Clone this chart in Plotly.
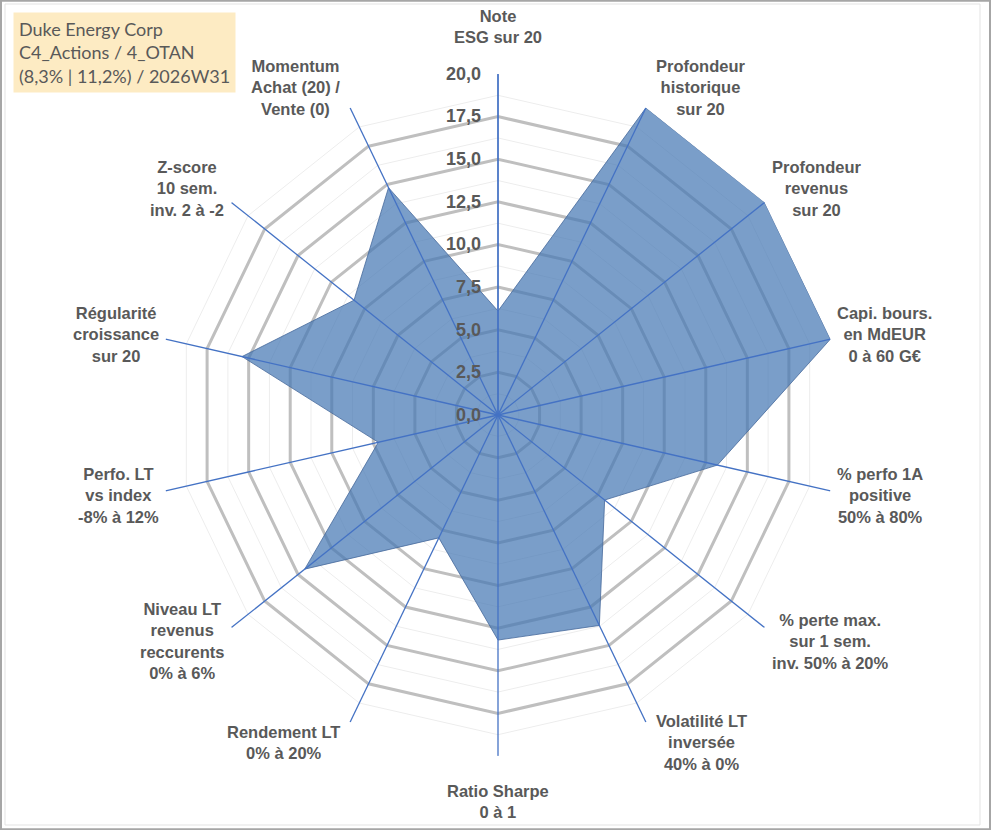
import math
import plotly.graph_objects as go

# axes of the radar, clockwise from the top
categories = [
    "Note<br>ESG sur 20",
    "Profondeur<br>historique<br>sur 20",
    "Profondeur<br>revenus<br>sur 20",
    "Capi. bours.<br>en MdEUR<br>0 à 60 G€",
    "% perfo 1A<br>positive<br>50% à 80%",
    "% perte max.<br>sur 1 sem.<br>inv. 50% à 20%",
    "Volatilité LT<br>inversée<br>40% à 0%",
    "Ratio Sharpe<br>0 à 1",
    "Rendement LT<br>0% à 20%",
    "Niveau LT<br>revenus<br>reccurents<br>0% à 6%",
    "Perfo. LT<br>vs index<br>-8% à 12%",
    "Régularité<br>croissance<br>sur 20",
    "Z-score<br>10 sem.<br>inv. 2 à -2",
    "Momentum<br>Achat (20) /<br>Vente (0)",
]
scores = [6.1, 20, 20, 20, 13.2, 8.0, 13.7, 13.2, 8.0, 14.5, 7.2, 15.4, 10.8, 14.8]
minor_levels = [1.25, 3.75, 6.25, 8.75, 11.25, 13.75, 16.25, 18.75]
r_max = 20
title_lines = ["Duke Energy Corp", "C4_Actions / 4_OTAN", "(8,3% | 11,2%) / 2026W31"]

GREY_TXT = "#595959"
SPOKE = "#4472C4"
BOLD = "Arial, Liberation Sans, sans-serif"
W, H = 991, 830
CX, CY, R = 498, 415, 341   # centre and radius of the radar in pixels
LX, LY = 333, 351           # label ring (original is slightly taller than wide)
dom_x = [(CX - R) / W, (CX + R) / W]
dom_y = [1 - (CY + R) / H, 1 - (CY - R) / H]

fig = go.Figure()

# thin minor rings
for lv in minor_levels:
    fig.add_trace(go.Scatterpolar(
        r=[lv] * (len(categories) + 1), theta=categories + [categories[0]],
        mode="lines", line=dict(color="#EDEDED", width=1),
        hoverinfo="skip", showlegend=False))

# the score polygon
fig.add_trace(go.Scatterpolar(
    r=scores + [scores[0]], theta=categories + [categories[0]],
    mode="lines", fill="toself",
    fillcolor="rgba(70,120,180,0.72)",
    line=dict(color="rgba(70,105,155,0.8)", width=1),
    showlegend=False))

# blue spokes drawn over the fill
for c in categories:
    fig.add_trace(go.Scatterpolar(
        r=[0, r_max], theta=[c, c], mode="lines",
        line=dict(color=SPOKE, width=1.3),
        hoverinfo="skip", showlegend=False))

fig.update_layout(
    width=W, height=H,
    margin=dict(l=0, r=0, t=0, b=0),
    paper_bgcolor="white",
    separators=",.",
    showlegend=False,
    polar=dict(
        domain=dict(x=dom_x, y=dom_y),
        bgcolor="white",
        gridshape="linear",
        radialaxis=dict(
            range=[0, r_max], dtick=2.5, tickformat=".1f",
            angle=90, side="counterclockwise", ticks="",
            tickangle=90, ticksuffix="\u00a0\u00a0",
            showline=True, linecolor=SPOKE, linewidth=1.3,
            gridcolor="#BFBFBF", gridwidth=3,
            tickfont=dict(family=BOLD, size=18,
                          color=GREY_TXT, weight="bold"),
        ),
        angularaxis=dict(
            direction="clockwise", rotation=90,
            showgrid=False, showline=False, ticks="",
            showticklabels=False,
        ),
    ),
)

# category labels, placed just outside each spoke tip, centred text
n = len(categories)
for i, c in enumerate(categories):
    a = math.radians(i * 360 / n)
    s, co = math.sin(a), math.cos(a)
    tx, ty = CX + LX * s, CY - LY * co
    if abs(s) < 1e-6:
        xa = "center"
        x = tx
        if co > 0:
            ya, y = "bottom", ty - 16
        else:
            ya, y = "top", ty + 14
    else:
        xa = "left" if s > 0 else "right"
        x = tx + (12 if s > 0 else -12)
        ya, y = "middle", ty - 12 * co
    fig.add_annotation(
        xref="paper", yref="paper", x=x / W, y=1 - y / H,
        xanchor=xa, yanchor=ya, align="center",
        text=c, showarrow=False,
        font=dict(family=BOLD, size=16.5, color=GREY_TXT, weight="bold"))

# info box, top left
fig.add_annotation(
    xref="paper", yref="paper", x=13 / W, y=1 - 12 / H,
    xanchor="left", yanchor="top", align="left",
    text="<br>".join(title_lines), showarrow=False,
    bgcolor="#FDEBC3", borderpad=5,
    font=dict(family="Lato", size=18, color=GREY_TXT))

# frames
fig.add_shape(type="rect", xref="paper", yref="paper",
              x0=0.001, y0=0.001, x1=0.999, y1=0.999,
              line=dict(color="#A6A6A6", width=2))
fig.add_shape(type="rect", xref="paper", yref="paper",
              x0=5 / W, y0=1 - 825 / H, x1=980 / W, y1=1 - 4 / H,
              line=dict(color="#E3E3E3", width=1))

fig.write_html("out.html", config={"displayModeBar": False},
               post_script="document.body.style.margin='0';")
